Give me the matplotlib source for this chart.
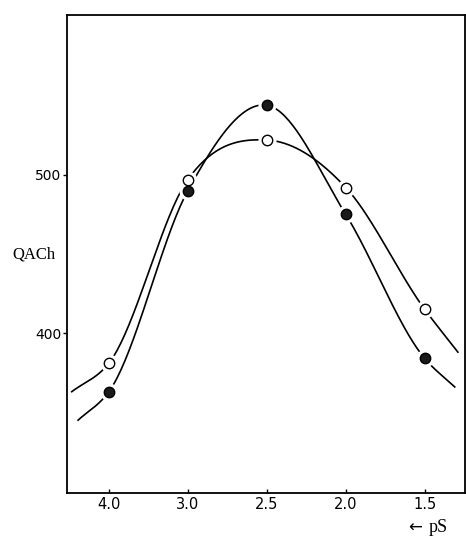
import numpy as np
import matplotlib
matplotlib.use("Agg")
import matplotlib.pyplot as plt

# ---- data ----
ps_labels = ["4.0", "3.0", "2.5", "2.0", "1.5"]
qach_open = [381, 497, 522, 492, 415]
qach_filled = [363, 490, 544, 475, 384]
# ends of the hand-drawn curves beyond the outer points (category position, value)
open_tail_pos = [-0.47, 4.42]
open_tail_val = [363, 388]
filled_tail_pos = [-0.39, 4.38]
filled_tail_val = [345, 366]
yticks = [400, 500]


def smooth(xs, ys, n=40):
    """Cubic Hermite curve y(x) through the given points."""
    x = np.asarray(xs, float)
    y = np.asarray(ys, float)
    h = np.diff(x)
    d = np.diff(y) / h
    m = np.zeros_like(y)
    m[0] = d[0]
    m[-1] = d[-1]
    for i in range(1, len(x) - 1):
        m[i] = (h[i] * d[i - 1] + h[i - 1] * d[i]) / (h[i - 1] + h[i])
    cx, cy = [], []
    t = np.linspace(0, 1, n)
    h00 = 2 * t**3 - 3 * t**2 + 1
    h10 = t**3 - 2 * t**2 + t
    h01 = -2 * t**3 + 3 * t**2
    h11 = t**3 - t**2
    for i in range(len(x) - 1):
        cx.append(x[i] + t * h[i])
        cy.append(h00 * y[i] + h10 * h[i] * m[i] + h01 * y[i + 1] + h11 * h[i] * m[i + 1])
    return np.concatenate(cx), np.concatenate(cy)


fig = plt.figure(figsize=(4.66, 5.36), dpi=100)
ax = fig.add_axes([67 / 466, 1 - 493 / 536, (465 - 67) / 466, (493 - 15) / 536])

pos = np.arange(len(ps_labels))

for vals, tp, tv in [(qach_open, open_tail_pos, open_tail_val),
                     (qach_filled, filled_tail_pos, filled_tail_val)]:
    xs = [tp[0]] + list(pos) + [tp[1]]
    ys = [tv[0]] + list(vals) + [tv[1]]
    cx, cy = smooth(xs, ys)
    ax.plot(cx, cy, color="black", lw=1.2, zorder=2)

# white halos to create gaps in the curves around the markers
for vals in (qach_open, qach_filled):
    ax.plot(pos, vals, "o", ms=12, mfc="white", mec="white", zorder=3)
ax.plot(pos, qach_open, "o", ms=7.5, mfc="white", mec="black", mew=1.0, zorder=4)
ax.plot(pos, qach_filled, "o", ms=7.5, mfc="#1a1a1a", mec="black", mew=1.0, zorder=4)

ax.set_xlim(-0.53, 4.51)
ax.set_ylim(299, 601)
ax.set_xticks(pos)
ax.set_xticklabels(ps_labels, fontsize=10.5, family="DejaVu Sans")
ax.set_yticks(yticks)
ax.set_yticklabels([str(v) for v in yticks], fontsize=10, family="DejaVu Sans")
ax.tick_params(axis="x", direction="in", length=3, width=1, pad=3)
ax.tick_params(axis="y", direction="out", length=3, width=1, pad=1)
for s in ax.spines.values():
    s.set_linewidth(1.3)

ax.text(-0.03, 0.498, "QACh", transform=ax.transAxes, ha="right", va="center",
        fontsize=12, family="Liberation Serif")
ax.text(0.957, -0.073, "pS", transform=ax.transAxes, ha="right", va="center",
        fontsize=13, family="Liberation Serif")
ax.text(0.893, -0.073, "\u2190", transform=ax.transAxes, ha="right", va="center",
        fontsize=12, family="DejaVu Sans")

fig.savefig("out.png", dpi=100)
